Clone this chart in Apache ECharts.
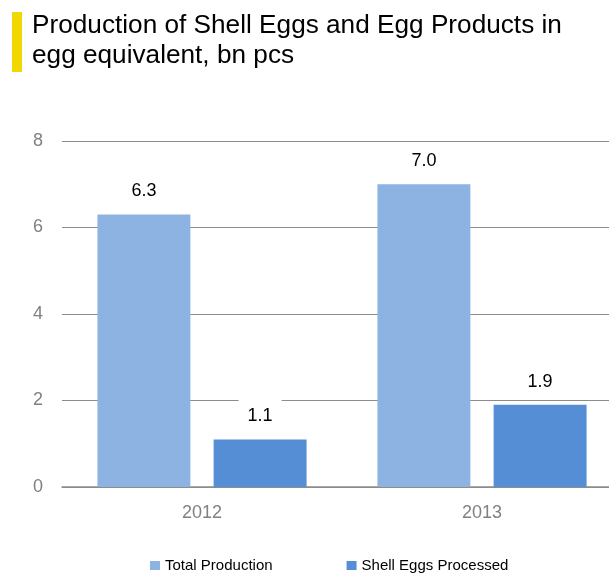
<!DOCTYPE html>
<html><head><meta charset="utf-8">
<script src="https://cdn.jsdelivr.net/npm/echarts@6/dist/echarts.min.js"></script>
<style>html,body{margin:0;padding:0;background:#fff}#c{width:609px;height:573px}</style>
</head><body><div id="c"></div>
<script>
var categories = ['2012', '2013'];
var totalProduction = [6.3, 7.0];
var shellEggsProcessed = [1.1, 1.9];
var yTicks = [0, 2, 4, 6, 8];
var titleLines = ['Production of Shell Eggs and Egg Products in', 'egg equivalent, bn pcs'];

var chart = echarts.init(document.getElementById('c'), null, {renderer: 'canvas'});
var font = '"Liberation Sans", Arial, sans-serif';
var labelCfg = {
  show: true, position: 'top', distance: 12, color: '#000', fontSize: 18, fontFamily: font,
  backgroundColor: '#fff', padding: [8, 9, 2, 9],
  formatter: function (p) { return p.value.toFixed(1); }
};
chart.setOption({
  animation: false,
  graphic: [
    {type: 'rect', shape: {x: 12, y: 12, width: 10, height: 60}, style: {fill: '#F0D800'}},
    {type: 'text', left: 32, top: 11, style: {text: titleLines.join('\n'), font: '26.2px ' + font, fill: '#000', lineHeight: 30}}
  ],
  grid: {left: 62, width: 560, top: 141, bottom: 86, containLabel: false, outerBoundsMode: 'none'},
  xAxis: {
    type: 'category', data: categories,
    axisLine: {lineStyle: {color: '#8c8c8c', width: 1.5}},
    axisTick: {show: false},
    axisLabel: {color: '#808080', fontSize: 18, fontFamily: font, margin: 17}
  },
  yAxis: {
    type: 'value', min: yTicks[0], max: yTicks[yTicks.length - 1], interval: 2,
    axisLine: {show: false}, axisTick: {show: false},
    axisLabel: {color: '#808080', fontSize: 18, fontFamily: font, margin: 19},
    splitLine: {lineStyle: {color: '#8c8c8c', width: 1.2}}
  },
  legend: {
    top: 553, left: 145, itemGap: 74, itemWidth: 10, itemHeight: 9, icon: 'rect',
    textStyle: {color: '#000', fontSize: 15, fontFamily: font}
  },
  series: [
    {name: 'Total Production', type: 'bar', data: totalProduction, barWidth: '33.2%', barGap: '25%',
      itemStyle: {color: '#8DB3E2'}, label: labelCfg},
    {name: 'Shell Eggs Processed', type: 'bar', data: shellEggsProcessed, barWidth: '33.2%',
      itemStyle: {color: '#558ED5'}, label: labelCfg}
  ]
});
</script></body></html>
